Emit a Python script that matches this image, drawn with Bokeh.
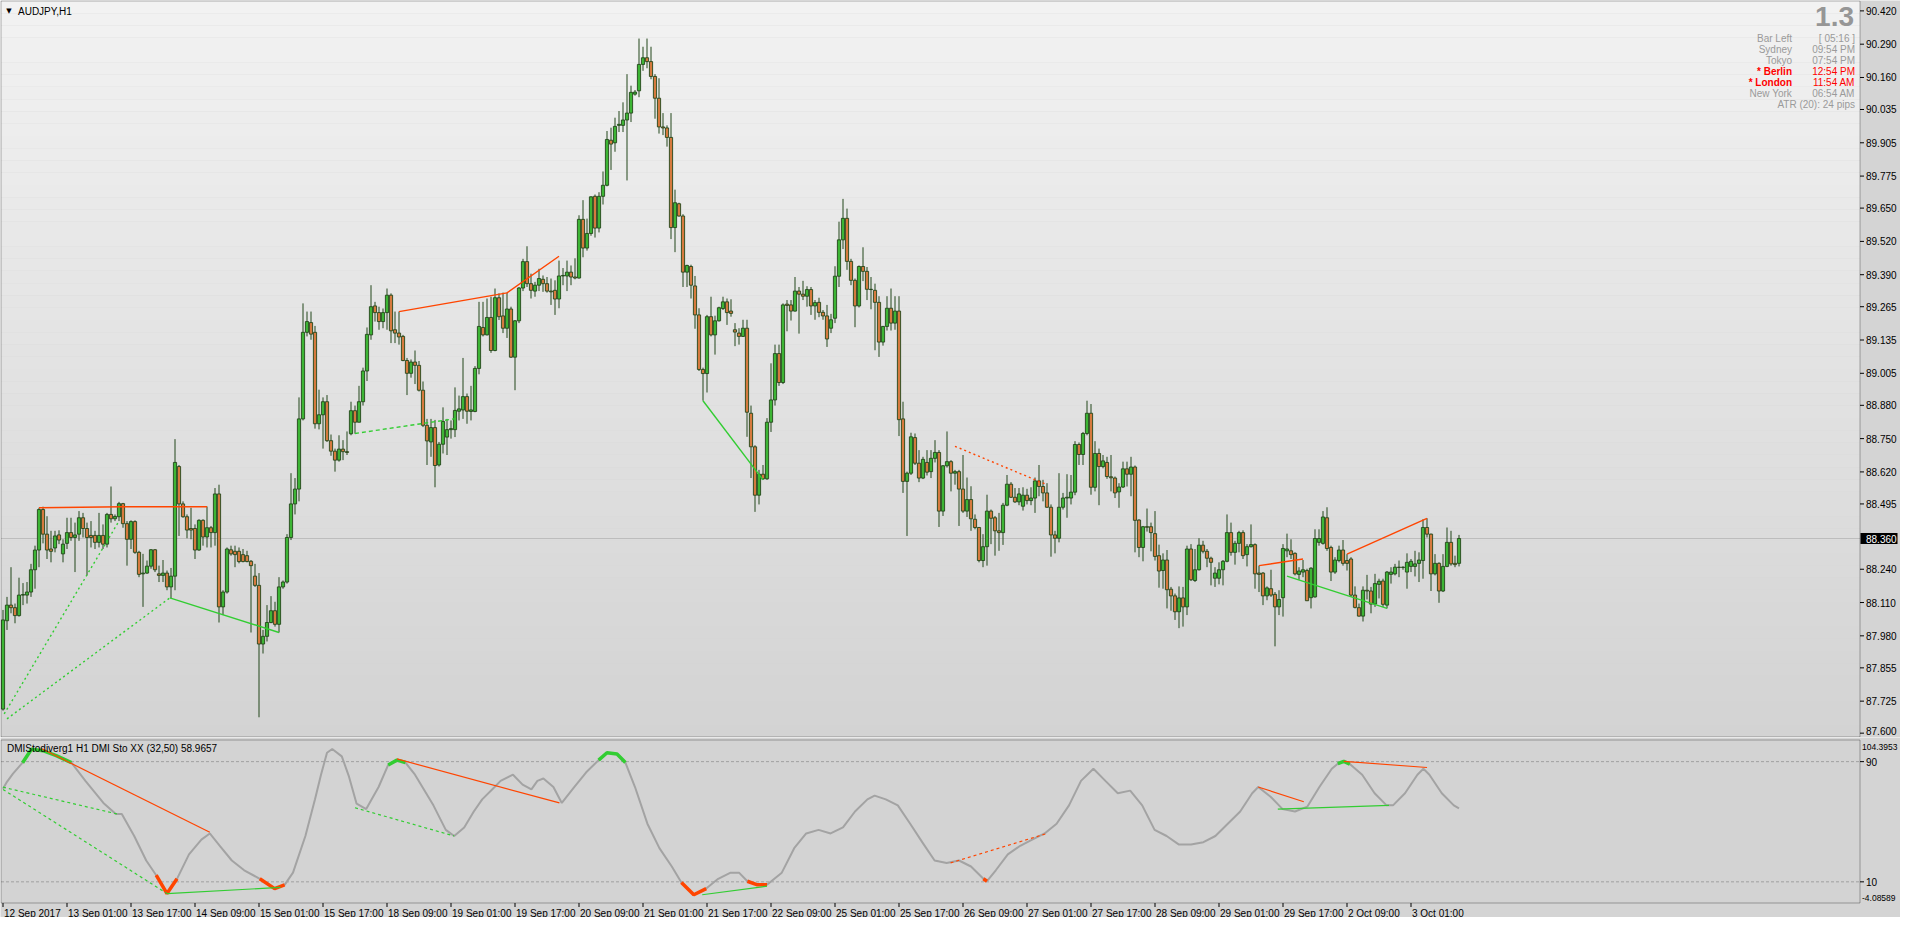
from bokeh.plotting import figure
from bokeh.layouts import column
from bokeh.models import Range1d, Label, BoxAnnotation, ColumnDataSource
from bokeh.core.properties import value
from bokeh.embed import file_html
from bokeh.resources import INLINE

# ---------------- data ----------------
opens = [
 87.694, 88.039, 88.100, 88.090, 88.059, 88.139, 88.139, 88.151, 88.238, 88.315,
 88.473, 88.377, 88.319, 88.323, 88.374, 88.300, 88.341, 88.383, 88.364, 88.377,
 88.441, 88.399, 88.372, 88.372, 88.345, 88.372, 88.338, 88.454, 88.437, 88.445,
 88.496, 88.418, 88.357, 88.426, 88.306, 88.222, 88.225, 88.252, 88.316, 88.222,
 88.216, 88.225, 88.171, 88.213, 88.641, 88.495, 88.445, 88.399, 88.399, 88.315,
 88.431, 88.366, 88.402, 88.383, 88.534, 88.093, 88.151, 88.316, 88.310, 88.310,
 88.297, 88.293, 88.271, 88.213, 88.177, 87.948, 87.978, 88.032, 88.078, 88.025,
 88.171, 88.190, 88.364, 88.495, 88.553, 88.827, 89.165, 89.203, 89.165, 88.808,
 88.843, 88.894, 88.742, 88.701, 88.666, 88.709, 88.699, 88.769, 88.859, 88.814,
 88.894, 89.014, 89.155, 89.268, 89.242, 89.207, 89.242, 89.310, 89.175, 89.162,
 89.149, 89.055, 89.005, 89.049, 89.036, 88.939, 88.802, 88.737, 88.793, 88.647,
 88.728, 88.756, 88.785, 88.785, 88.857, 88.862, 88.914, 88.856, 88.856, 89.024,
 89.184, 89.155, 89.223, 89.094, 89.300, 89.229, 89.181, 89.256, 89.068, 89.210,
 89.338, 89.441, 89.355, 89.326, 89.349, 89.372, 89.355, 89.326, 89.329, 89.295,
 89.385, 89.385, 89.400, 89.381, 89.377, 89.606, 89.494, 89.551, 89.696, 89.572,
 89.696, 89.739, 89.915, 89.905, 89.973, 89.973, 89.994, 90.021, 90.095, 90.108,
 90.211, 90.237, 90.222, 90.164, 90.079, 89.967, 89.963, 89.926, 89.574, 89.667,
 89.619, 89.400, 89.422, 89.346, 89.233, 89.020, 89.004, 89.226, 89.155, 89.210,
 89.258, 89.284, 89.248, 89.175, 89.162, 89.149, 89.181, 88.849, 88.718, 88.529,
 88.611, 88.593, 88.814, 88.901, 89.082, 88.969, 89.275, 89.272, 89.248, 89.326,
 89.314, 89.306, 89.332, 89.268, 89.282, 89.243, 89.229, 89.181, 89.220, 89.384,
 89.526, 89.610, 89.442, 89.368, 89.268, 89.422, 89.403, 89.333, 89.329, 89.282,
 89.127, 89.188, 89.259, 89.201, 89.248, 88.827, 88.583, 88.615, 88.754, 88.654,
 88.596, 88.657, 88.621, 88.673, 88.696, 88.467, 88.644, 88.660, 88.615, 88.621,
 88.553, 88.467, 88.512, 88.435, 88.403, 88.274, 88.328, 88.467, 88.441, 88.390,
 88.383, 88.490, 88.572, 88.521, 88.503, 88.486, 88.529, 88.508, 88.518, 88.585,
 88.563, 88.538, 88.482, 88.374, 88.361, 88.482, 88.518, 88.518, 88.541, 88.727,
 88.688, 88.770, 88.849, 88.560, 88.692, 88.641, 88.657, 88.601, 88.596, 88.542,
 88.561, 88.632, 88.611, 88.639, 88.432, 88.325, 88.406, 88.406, 88.379, 88.293,
 88.235, 88.276, 88.162, 88.136, 88.074, 88.128, 88.093, 88.319, 88.196, 88.238,
 88.334, 88.310, 88.283, 88.205, 88.205, 88.238, 88.271, 88.383, 88.306, 88.341,
 88.383, 88.297, 88.328, 88.336, 88.225, 88.225, 88.136, 88.164, 88.142, 88.093,
 88.129, 88.312, 88.312, 88.302, 88.220, 88.229, 88.235, 88.129, 88.132, 88.345,
 88.341, 88.441, 88.325, 88.229, 88.274, 88.315, 88.274, 88.280, 88.139, 88.090,
 88.057, 88.158, 88.155, 88.104, 88.181, 88.194, 88.100, 88.220, 88.222, 88.248,
 88.247, 88.229, 88.251, 88.251, 88.263, 88.274, 88.403, 88.377, 88.222, 88.263,
 88.155, 88.251, 88.345, 88.263, 88.263]
highs = [
 88.081, 88.132, 88.248, 88.106, 88.207, 88.186, 88.190, 88.261, 88.332, 88.480,
 88.484, 88.447, 88.390, 88.390, 88.392, 88.357, 88.441, 88.441, 88.422, 88.467,
 88.460, 88.422, 88.428, 88.390, 88.460, 88.415, 88.460, 88.563, 88.454, 88.503,
 88.499, 88.428, 88.431, 88.431, 88.312, 88.300, 88.274, 88.319, 88.319, 88.254,
 88.276, 88.235, 88.245, 88.748, 88.647, 88.505, 88.454, 88.480, 88.415, 88.435,
 88.435, 88.485, 88.409, 88.557, 88.570, 88.158, 88.325, 88.332, 88.332, 88.325,
 88.319, 88.312, 88.276, 88.261, 88.225, 88.003, 88.100, 88.135, 88.113, 88.209,
 88.196, 88.377, 88.615, 88.596, 88.911, 89.278, 89.246, 89.246, 89.190, 88.941,
 88.911, 88.920, 88.766, 88.711, 88.763, 88.744, 88.778, 88.894, 88.879, 88.956,
 89.027, 89.184, 89.349, 89.284, 89.265, 89.258, 89.336, 89.317, 89.246, 89.246,
 89.155, 89.065, 89.059, 89.094, 89.053, 88.973, 88.827, 88.827, 88.823, 88.737,
 88.872, 88.827, 88.821, 88.950, 88.918, 89.065, 88.926, 88.956, 89.033, 89.284,
 89.284, 89.297, 89.304, 89.336, 89.317, 89.320, 89.320, 89.265, 89.213, 89.342,
 89.452, 89.501, 89.394, 89.362, 89.413, 89.387, 89.381, 89.375, 89.368, 89.445,
 89.416, 89.445, 89.426, 89.454, 89.622, 89.681, 89.609, 89.696, 89.703, 89.712,
 89.793, 89.951, 89.964, 90.003, 90.029, 90.063, 90.173, 90.128, 90.111, 90.312,
 90.280, 90.312, 90.280, 90.173, 90.157, 90.021, 89.973, 90.021, 89.722, 89.671,
 89.626, 89.429, 89.429, 89.385, 89.259, 89.027, 89.233, 89.304, 89.230, 89.265,
 89.304, 89.297, 89.294, 89.201, 89.181, 89.214, 89.214, 88.879, 88.724, 88.628,
 88.647, 88.830, 89.044, 89.117, 89.117, 89.278, 89.291, 89.291, 89.381, 89.342,
 89.366, 89.345, 89.342, 89.291, 89.300, 89.252, 89.272, 89.237, 89.423, 89.597,
 89.686, 89.648, 89.452, 89.375, 89.426, 89.497, 89.420, 89.381, 89.355, 89.306,
 89.190, 89.306, 89.336, 89.306, 89.306, 88.894, 88.621, 88.773, 88.770, 88.705,
 88.679, 88.705, 88.705, 88.744, 88.705, 88.647, 88.778, 88.666, 88.628, 88.628,
 88.686, 88.598, 88.564, 88.454, 88.405, 88.377, 88.531, 88.473, 88.448, 88.460,
 88.499, 88.608, 88.580, 88.557, 88.557, 88.560, 88.554, 88.560, 88.598, 88.647,
 88.589, 88.576, 88.493, 88.390, 88.615, 88.538, 88.611, 88.608, 88.740, 88.735,
 88.776, 88.898, 88.885, 88.740, 88.711, 88.686, 88.679, 88.686, 88.602, 88.576,
 88.660, 88.660, 88.679, 88.645, 88.435, 88.409, 88.477, 88.422, 88.467, 88.336,
 88.302, 88.315, 88.171, 88.145, 88.173, 88.171, 88.332, 88.338, 88.319, 88.361,
 88.351, 88.319, 88.289, 88.248, 88.267, 88.276, 88.454, 88.422, 88.351, 88.390,
 88.392, 88.338, 88.415, 88.341, 88.254, 88.229, 88.173, 88.238, 88.151, 88.158,
 88.338, 88.379, 88.357, 88.306, 88.248, 88.276, 88.242, 88.248, 88.396, 88.396,
 88.467, 88.482, 88.332, 88.287, 88.332, 88.354, 88.299, 88.287, 88.173, 88.106,
 88.173, 88.218, 88.171, 88.222, 88.203, 88.203, 88.233, 88.248, 88.261, 88.274,
 88.251, 88.302, 88.280, 88.312, 88.306, 88.435, 88.439, 88.379, 88.299, 88.267,
 88.299, 88.403, 88.390, 88.293, 88.374]
lows = [
 87.688, 88.003, 88.068, 88.029, 88.055, 88.100, 88.106, 88.132, 88.164, 88.248,
 88.341, 88.280, 88.267, 88.306, 88.338, 88.267, 88.319, 88.351, 88.229, 88.351,
 88.364, 88.216, 88.325, 88.319, 88.325, 88.319, 88.325, 88.422, 88.428, 88.428,
 88.402, 88.254, 88.319, 88.300, 88.209, 88.093, 88.222, 88.242, 88.229, 88.190,
 88.190, 88.158, 88.126, 88.158, 88.370, 88.441, 88.361, 88.357, 88.280, 88.312,
 88.332, 88.325, 88.325, 88.332, 88.032, 88.061, 88.145, 88.293, 88.248, 88.263,
 88.267, 88.267, 87.993, 88.171, 87.662, 87.911, 87.958, 88.029, 88.016, 87.993,
 88.164, 88.184, 88.354, 88.454, 88.505, 88.821, 89.149, 89.136, 88.789, 88.786,
 88.711, 88.737, 88.683, 88.621, 88.660, 88.666, 88.686, 88.763, 88.769, 88.814,
 88.879, 88.975, 89.136, 89.207, 89.175, 89.181, 89.175, 89.123, 89.123, 89.117,
 89.052, 88.920, 88.988, 88.963, 88.934, 88.795, 88.647, 88.679, 88.560, 88.641,
 88.692, 88.686, 88.750, 88.756, 88.821, 88.827, 88.808, 88.821, 88.853, 89.001,
 89.149, 89.153, 89.085, 89.091, 89.213, 89.162, 89.143, 89.065, 88.939, 89.201,
 89.326, 89.342, 89.297, 89.304, 89.326, 89.323, 89.320, 89.272, 89.233, 89.259,
 89.349, 89.326, 89.349, 89.372, 89.375, 89.458, 89.484, 89.542, 89.535, 89.555,
 89.664, 89.735, 89.799, 89.870, 89.947, 89.947, 89.758, 89.986, 90.089, 90.083,
 90.186, 90.196, 90.153, 89.999, 89.941, 89.935, 89.890, 89.529, 89.478, 89.617,
 89.342, 89.342, 89.297, 89.179, 89.014, 88.898, 88.930, 89.149, 89.078, 89.207,
 89.252, 89.194, 89.226, 89.111, 89.117, 89.147, 88.757, 88.596, 88.464, 88.493,
 88.589, 88.589, 88.776, 88.879, 88.956, 88.963, 89.169, 89.211, 89.246, 89.160,
 89.291, 89.265, 89.233, 89.214, 89.224, 89.214, 89.108, 89.162, 89.201, 89.342,
 89.490, 89.409, 89.349, 89.185, 89.262, 89.365, 89.291, 89.255, 89.095, 89.069,
 89.113, 89.172, 89.172, 89.175, 88.760, 88.538, 88.370, 88.608, 88.647, 88.580,
 88.592, 88.606, 88.596, 88.657, 88.405, 88.448, 88.637, 88.544, 88.570, 88.409,
 88.460, 88.444, 88.390, 88.396, 88.267, 88.248, 88.254, 88.338, 88.293, 88.312,
 88.335, 88.486, 88.518, 88.499, 88.490, 88.469, 88.493, 88.490, 88.460, 88.525,
 88.505, 88.480, 88.289, 88.302, 88.345, 88.473, 88.441, 88.493, 88.529, 88.647,
 88.647, 88.763, 88.531, 88.544, 88.490, 88.634, 88.593, 88.544, 88.518, 88.480,
 88.557, 88.563, 88.525, 88.306, 88.287, 88.271, 88.387, 88.310, 88.274, 88.168,
 88.164, 88.087, 88.078, 88.042, 88.010, 88.016, 88.061, 88.194, 88.190, 88.235,
 88.302, 88.248, 88.177, 88.171, 88.181, 88.177, 88.267, 88.293, 88.258, 88.306,
 88.280, 88.251, 88.325, 88.164, 88.151, 88.100, 88.119, 88.132, 87.939, 88.061,
 88.055, 88.287, 88.280, 88.216, 88.199, 88.209, 88.117, 88.087, 88.129, 88.332,
 88.336, 88.312, 88.194, 88.222, 88.267, 88.254, 88.235, 88.132, 88.087, 88.055,
 88.036, 88.122, 88.068, 88.093, 88.126, 88.093, 88.087, 88.184, 88.216, 88.209,
 88.238, 88.164, 88.229, 88.212, 88.190, 88.203, 88.364, 88.155, 88.216, 88.109,
 88.151, 88.248, 88.254, 88.248, 88.251]
closes = [
 88.042, 88.100, 88.090, 88.059, 88.139, 88.141, 88.151, 88.238, 88.315, 88.473,
 88.377, 88.315, 88.310, 88.370, 88.354, 88.338, 88.383, 88.364, 88.374, 88.441,
 88.399, 88.364, 88.364, 88.345, 88.372, 88.338, 88.454, 88.437, 88.446, 88.496,
 88.418, 88.357, 88.426, 88.306, 88.220, 88.225, 88.252, 88.316, 88.238, 88.216,
 88.225, 88.171, 88.213, 88.657, 88.495, 88.445, 88.393, 88.393, 88.315, 88.431,
 88.366, 88.402, 88.383, 88.534, 88.093, 88.151, 88.319, 88.300, 88.297, 88.270,
 88.270, 88.270, 88.254, 88.177, 87.948, 87.978, 88.032, 88.078, 88.025, 88.171,
 88.190, 88.364, 88.495, 88.553, 88.827, 89.165, 89.207, 89.158, 88.808, 88.843,
 88.894, 88.742, 88.701, 88.666, 88.709, 88.699, 88.696, 88.859, 88.814, 88.894,
 89.014, 89.157, 89.265, 89.242, 89.207, 89.242, 89.310, 89.171, 89.162, 89.147,
 89.055, 89.005, 89.049, 89.036, 88.939, 88.802, 88.741, 88.793, 88.645, 88.728,
 88.817, 88.785, 88.789, 88.860, 88.866, 88.914, 88.857, 88.862, 89.024, 89.188,
 89.155, 89.223, 89.094, 89.300, 89.226, 89.181, 89.256, 89.068, 89.210, 89.338,
 89.441, 89.355, 89.329, 89.349, 89.375, 89.355, 89.326, 89.323, 89.295, 89.385,
 89.387, 89.400, 89.381, 89.377, 89.606, 89.494, 89.551, 89.694, 89.572, 89.696,
 89.739, 89.918, 89.900, 89.969, 89.977, 89.994, 90.021, 90.102, 90.103, 90.211,
 90.237, 90.222, 90.164, 90.079, 89.967, 89.963, 89.926, 89.574, 89.671, 89.619,
 89.400, 89.426, 89.349, 89.233, 89.020, 89.004, 89.226, 89.155, 89.210, 89.261,
 89.284, 89.242, 89.239, 89.166, 89.149, 89.181, 88.853, 88.718, 88.529, 88.611,
 88.593, 88.814, 88.901, 89.082, 88.969, 89.272, 89.270, 89.248, 89.326, 89.314,
 89.306, 89.332, 89.268, 89.281, 89.243, 89.229, 89.139, 89.214, 89.384, 89.526,
 89.610, 89.442, 89.368, 89.268, 89.422, 89.403, 89.333, 89.332, 89.282, 89.127,
 89.188, 89.259, 89.201, 89.248, 88.824, 88.583, 88.615, 88.757, 88.654, 88.596,
 88.669, 88.619, 88.673, 88.696, 88.467, 88.644, 88.660, 88.615, 88.621, 88.553,
 88.467, 88.512, 88.437, 88.403, 88.274, 88.328, 88.467, 88.439, 88.390, 88.383,
 88.490, 88.572, 88.521, 88.503, 88.534, 88.529, 88.508, 88.518, 88.585, 88.563,
 88.538, 88.482, 88.374, 88.361, 88.482, 88.518, 88.521, 88.541, 88.727, 88.688,
 88.770, 88.849, 88.560, 88.692, 88.641, 88.663, 88.602, 88.597, 88.538, 88.561,
 88.632, 88.611, 88.639, 88.431, 88.325, 88.406, 88.404, 88.383, 88.290, 88.233,
 88.276, 88.160, 88.136, 88.074, 88.128, 88.093, 88.319, 88.199, 88.238, 88.334,
 88.310, 88.283, 88.267, 88.225, 88.238, 88.271, 88.383, 88.306, 88.341, 88.383,
 88.293, 88.328, 88.336, 88.222, 88.220, 88.136, 88.167, 88.139, 88.093, 88.122,
 88.321, 88.319, 88.297, 88.222, 88.233, 88.238, 88.117, 88.244, 88.360, 88.360,
 88.444, 88.321, 88.229, 88.276, 88.315, 88.263, 88.263, 88.139, 88.091, 88.057,
 88.158, 88.155, 88.104, 88.184, 88.193, 88.103, 88.229, 88.229, 88.248, 88.247,
 88.248, 88.267, 88.271, 88.261, 88.276, 88.403, 88.377, 88.222, 88.263, 88.155,
 88.251, 88.345, 88.261, 88.258, 88.360]

# oscillator (DMI Sto XX) read at these bar positions
osc_bar = [0, 0.85, 2.5, 4.9, 7.1, 10, 13.3, 17.1, 20.6, 25.1, 28.2, 29.7, 32.8, 35.8,
           38.3, 41.0, 43.5, 46.5, 49.6, 51.7, 54.2, 57.2, 60.3, 64.2, 67.9, 70.4, 72.5,
           75.6, 78.0, 79.5, 81.0, 82.3, 84.7, 86.5, 88.4, 90.8, 93.9, 96.3, 98.5, 100.6,
           103.0, 107.6, 110.7, 112.8, 115.3, 117.7, 119.8, 122.9, 124.4, 127.5, 129.9,
           132.1, 133.6, 135.1, 137.6, 139.7, 142.8, 145.8, 148.9, 151.0, 153.5, 155.6,
           158.0, 161.1, 164.1, 167.2, 169.6, 172.7, 175.8, 178.8, 181.9, 184.0, 186.1,
           188.6, 191.0, 194.7, 197.8, 200.8, 203.9, 206.9, 210.0, 213.0, 216.1, 217.9,
           220.7, 223.7, 226.8, 229.8, 232.9, 235.9, 239.0, 242.0, 245.1, 246.0, 248.2,
           251.2, 254.3, 257.3, 260.4, 263.4, 266.5, 269.5, 272.6, 275.6, 278.7, 281.8,
           284.8, 287.9, 290.9, 294.0, 297.0, 300.1, 303.1, 306.2, 309.3, 312.3, 313.8,
           316.9, 319.9, 323.0, 326.1, 329.1, 332.2, 333.7, 335.2, 336.7, 337.7, 339.8,
           342.9, 345.9, 347.5, 350.5, 353.6, 355.1, 356.6, 359.7, 362.7, 364.0]
osc_val = [72.0, 76.0, 82.0, 89.3, 98.2, 97.3, 94.0, 89.3, 77.2, 62.5, 55.2, 55.2, 40.5, 24.2,
           14.4, 2.2, 12.0, 28.3, 38.1, 42.2, 34.0, 24.2, 17.7, 12.0, 5.5, 8.0, 16.1,
           40.5, 64.9, 81.3, 95.9, 98.4, 93.5, 80.0, 62.0, 58.4, 73.1, 87.8, 91.0, 89.4,
           81.3, 60.9, 44.6, 40.5, 46.2, 56.8, 64.9, 73.1, 77.2, 81.3, 74.7,
           71.5, 77.2, 78.8, 73.1, 62.5, 73.1, 82.9, 91.0, 95.9, 95.1, 89.4,
           73.1, 48.7, 32.4, 20.2, 9.6, 1.4, 5.5, 12.0, 16.1, 16.1, 10.4,
           8.0, 8.0, 16.1, 32.4, 42.2, 44.6, 42.2, 46.2, 56.8, 64.9, 67.4,
           64.9, 60.9, 48.7, 36.4, 24.2, 22.6, 24.2, 20.2, 12.0, 10.4, 17.7,
           28.3, 34.0, 38.1, 42.2, 48.7, 60.9, 77.2, 85.3, 77.2, 69.0, 70.7,
           60.9, 44.6, 40.5, 34.8, 34.8, 36.4, 40.5, 48.7, 56.8, 69.0, 73.1,
           66.6, 58.4, 56.8, 60.1, 73.1, 85.3, 88.6, 90.2, 88.4, 86.1, 81.3,
           69.0, 60.9, 60.9, 69.0, 81.3, 85.3, 81.3, 69.0, 60.9, 58.97]
hi_zones = [(4.9, 17.1), (96.3, 100.6), (148.9, 155.6), (333.7, 336.7)]
lo_zones = [(38.3, 43.5), (64.2, 70.4), (169.6, 175.8), (186.1, 191.0), (245.1, 246.0)]

# divergence lines: (colour, dash, bars, values)
main_lines = [
    ("red", "solid", [9, 30, 30, 51], [88.480, 88.484, 88.484, 88.484]),
    ("green", "2 3", [0.3, 29], [87.675, 88.428]),
    ("green", "2 3", [1.0, 41.7], [87.656, 88.128]),
    ("green", "solid", [41.7, 69], [88.128, 87.993]),
    ("green", "4 3", [88, 114], [88.770, 88.830]),
    ("red", "solid", [99, 126, 139], [89.246, 89.319, 89.462]),
    ("green", "solid", [175, 190], [88.898, 88.589]),
    ("red", "2 3", [238, 261], [88.720, 88.570]),
    ("red", "solid", [314, 325], [88.254, 88.280]),
    ("red", "solid", [336, 356], [88.299, 88.439]),
    ("green", "solid", [321, 346], [88.213, 88.087]),
]
ind_lines = [
    ("red", "solid", [9.6, 51.7], [98.7, 43.0]),
    ("green", "3 3", [0, 28.5], [73.0, 55.2]),
    ("green", "3 3", [0, 41.0], [71.5, 2.2]),
    ("green", "solid", [41.0, 69.4], [2.2, 6.3]),
    ("red", "solid", [98.5, 139.1], [91.8, 62.5]),
    ("green", "3 3", [88.0, 112.8], [59.3, 40.5]),
    ("green", "solid", [174.8, 191.0], [1.4, 7.1]),
    ("red", "3 3", [236.9, 261.0], [22.6, 42.2]),
    ("red", "solid", [313.8, 325.2], [73.1, 63.3]),
    ("green", "solid", [318.7, 346.5], [58.4, 60.9]),
    ("red", "solid", [335.2, 356.0], [90.2, 86.1]),
]

price_ticks = [90.420, 90.290, 90.160, 90.035, 89.905, 89.775, 89.650, 89.520, 89.390,
               89.265, 89.135, 89.005, 88.880, 88.750, 88.620, 88.495, 88.240, 88.110,
               87.980, 87.855, 87.725, 87.600]
time_labels = ["12 Sep 2017", "13 Sep 01:00", "13 Sep 17:00", "14 Sep 09:00", "15 Sep 01:00",
               "15 Sep 17:00", "18 Sep 09:00", "19 Sep 01:00", "19 Sep 17:00", "20 Sep 09:00",
               "21 Sep 01:00", "21 Sep 17:00", "22 Sep 09:00", "25 Sep 01:00", "25 Sep 17:00",
               "26 Sep 09:00", "27 Sep 01:00", "27 Sep 17:00", "28 Sep 09:00", "29 Sep 01:00",
               "29 Sep 17:00", "2 Oct 09:00", "3 Oct 01:00"]
time_ticks = [16 * k for k in range(len(time_labels))]
last_price = 88.360
ind_levels = [10, 90]
ind_max, ind_min = 104.3953, -4.08589
info_rows = [("Bar Left", "[ 05:16 ]", False), ("Sydney", "09:54 PM", False),
             ("Tokyo", "07:54 PM", False), ("* Berlin", "12:54 PM", True),
             ("* London", "11:54 AM", True), ("New York", "06:54 AM", False)]

# ---------------- styling / geometry ----------------
FONT = "Liberation Sans"
BULL = "#3DB535"
BEAR = "#D67A3E"
EDGE = "#23461A"
RED = "#FF4500"
GREEN = "#32CD32"
GREY_TXT = "#9A9A9A"
PAGE = "#D4D4D4"

W = 1900
PPX = 4.0                      # pixels per bar
X0 = -0.625                    # data x at left canvas edge
XE = X0 + W / PPX


def dx(px):
    return X0 + px / PPX


XL, XR = dx(0.5), dx(1859.5)   # chart panel borders

MH = 737
P_TOP, P_BOT = 90.4586, 87.585  # prices at panel borders
PPY = (736.5 - 0.5) / (P_TOP - P_BOT)
YT = P_TOP + 0.5 / PPY


def dy(py):
    return YT - py / PPY


IH = 180
IPPY = (165.5 - 2.5) / (ind_max - ind_min)
IYT = ind_max + 2.5 / IPPY


def idy(py):
    return IYT - py / IPPY


xr = Range1d(X0, XE)


def text_kw(size="10px", color="black", align="left"):
    return dict(text_font=value(FONT), text_font_size=value(size), text_color=color,
                text_align=align, text_baseline="middle")


# ---------------- main panel ----------------
p = figure(width=W, height=MH, x_range=xr, y_range=Range1d(dy(MH), YT),
           x_axis_location=None, y_axis_location=None, toolbar_location=None,
           output_backend="svg", min_border=0)
p.grid.visible = False
p.outline_line_color = None
p.background_fill_color = PAGE
p.border_fill_color = PAGE

NB = 60
for k in range(NB):
    t = (k + 0.5) / NB
    g = int(round(242 - t * (242 - 211)))
    p.add_layout(BoxAnnotation(left=XL, right=XR,
                               top=P_TOP - (P_TOP - P_BOT) * k / NB,
                               bottom=P_TOP - (P_TOP - P_BOT) * (k + 1) / NB,
                               fill_color="#%02x%02x%02x" % (g, g, g), fill_alpha=1,
                               line_color=None, level="underlay"))

p.segment(x0=[XL], y0=[last_price], x1=[XR], y1=[last_price], line_color="#BDBDBD",
          line_width=1)

n = len(closes)
src = ColumnDataSource(dict(
    x=list(range(n)), h=highs, l=lows,
    top=[max(o, c) for o, c in zip(opens, closes)],
    bottom=[min(o, c) for o, c in zip(opens, closes)],
    fill=[BULL if c >= o else BEAR for o, c in zip(opens, closes)]))
p.segment(x0="x", y0="l", x1="x", y1="h", source=src, line_color=EDGE, line_width=1)
p.vbar(x="x", width=0.8, top="top", bottom="bottom", fill_color="fill",
       line_color=EDGE, line_width=0.9, source=src)

for col, dash, xs, ys in main_lines:
    p.line(xs, ys, line_color=RED if col == "red" else GREEN, line_width=1.4,
           line_dash=dash)

p.add_layout(BoxAnnotation(left=XL, right=XR, top=P_TOP, bottom=P_BOT, fill_alpha=0,
                           line_color="black", line_width=1, level="overlay"))

# price axis (labels kept inside the canvas)
k = len(price_ticks)
p.segment(x0=[XR] * k, y0=price_ticks, x1=[dx(1863.5)] * k, y1=price_ticks,
          line_color="black", line_width=1)
label_y = [max(t, dy(MH - 7)) for t in price_ticks]
label_y = [min(v, dy(7)) for v in label_y]
p.text(x=[dx(1865.5)] * k, y=label_y, text=["%.3f" % t for t in price_ticks],
       **text_kw())
p.add_layout(BoxAnnotation(left=dx(1860), right=dx(1897), top=last_price + 5.5 / PPY,
                           bottom=last_price - 5.5 / PPY, fill_color="black", fill_alpha=1,
                           line_color=None, level="overlay"))
p.add_layout(Label(x=dx(1865.5), y=last_price, text="%.3f" % last_price, text_font=FONT,
                   text_font_size="10px", text_color="white", text_baseline="middle",
                   level="overlay"))

# title and info block
p.add_layout(Label(x=dx(8.5), y=dy(10.5), text="\u25bc", text_font="DejaVu Sans",
                   text_font_size="7px", text_color="black", text_align="center",
                   text_baseline="middle"))
p.add_layout(Label(x=dx(17.5), y=dy(10.5), text="AUDJPY,H1", text_font=FONT,
                   text_font_size="10px", text_color="black", text_baseline="middle"))
p.add_layout(Label(x=dx(1853.5), y=dy(16), text="1.3", text_font=FONT, text_font_size="28px",
                   text_font_style="bold", text_color="#969696", text_align="right",
                   text_baseline="middle"))
for i, (a, b, hot) in enumerate(info_rows):
    yy = dy(38 + 11 * i)
    colr = "#FF0000" if hot else GREY_TXT
    p.add_layout(Label(x=dx(1791.5), y=yy, text=a, text_font=FONT, text_font_size="10px",
                       text_color=colr, text_font_style="bold" if hot else "normal",
                       text_align="right", text_baseline="middle"))
    p.add_layout(Label(x=dx(1854.5), y=yy, text=b, text_font=FONT, text_font_size="10px",
                       text_color=colr, text_align="right", text_baseline="middle"))
p.add_layout(Label(x=dx(1854.5), y=dy(104), text="ATR (20): 24 pips", text_font=FONT,
                   text_font_size="10px", text_color=GREY_TXT, text_align="right",
                   text_baseline="middle"))

# ---------------- indicator panel ----------------
q = figure(width=W, height=IH, x_range=xr, y_range=Range1d(idy(IH), IYT),
           x_axis_location=None, y_axis_location=None, toolbar_location=None,
           output_backend="svg", min_border=0)
q.grid.visible = False
q.outline_line_color = None
q.background_fill_color = PAGE
q.border_fill_color = PAGE

q.add_layout(BoxAnnotation(left=XL, right=XR, top=ind_max, bottom=ind_min,
                           fill_color="#D3D3D3", fill_alpha=1, line_color=None,
                           level="underlay"))
for lv in ind_levels:
    q.segment(x0=[XL], y0=[lv], x1=[XR], y1=[lv], line_color="#A0A0A0", line_width=1,
              line_dash="3 2")

q.line(osc_bar, osc_val, line_color="#A3A3A3", line_width=2)
for a, b in hi_zones:
    xs = [x for x in osc_bar if a <= x <= b]
    ys = [v for x, v in zip(osc_bar, osc_val) if a <= x <= b]
    q.line(xs, ys, line_color=GREEN, line_width=3.5)
for a, b in lo_zones:
    xs = [x for x in osc_bar if a <= x <= b]
    ys = [v for x, v in zip(osc_bar, osc_val) if a <= x <= b]
    q.line(xs, ys, line_color=RED, line_width=3.5)
for col, dash, xs, ys in ind_lines:
    q.line(xs, ys, line_color=RED if col == "red" else GREEN, line_width=1.2,
           line_dash=dash)

q.add_layout(BoxAnnotation(left=XL, right=XR, top=ind_max, bottom=ind_min, fill_alpha=0,
                           line_color="black", line_width=1, level="overlay"))

q.add_layout(Label(x=dx(6.5), y=idy(10.5), text="DMIStodiverg1 H1 DMI Sto XX (32,50) 58.9657",
                   text_font=FONT, text_font_size="10px", text_color="black",
                   text_baseline="middle"))
q.segment(x0=[XR] * 2, y0=ind_levels, x1=[dx(1863.5)] * 2, y1=ind_levels, line_color="black")
q.text(x=[dx(1865.5)] * 2, y=ind_levels, text=[str(v) for v in ind_levels], **text_kw())
q.text(x=[dx(1861.5)], y=[idy(9)], text=["%.4f" % ind_max], **text_kw(size="8.5px"))
q.text(x=[dx(1861.5)], y=[idy(160)], text=["%.5f" % ind_min], **text_kw(size="8.5px"))

# time axis
q.segment(x0=time_ticks, y0=[ind_min] * len(time_ticks), x1=time_ticks,
          y1=[idy(169.5)] * len(time_ticks), line_color="black", line_width=1)
q.text(x=[t + 1.0 / PPX for t in time_ticks], y=[idy(175.5)] * len(time_ticks),
       text=time_labels, **text_kw())

layout = column(p, q, spacing=0)
open("out.html", "w").write(file_html(layout, INLINE))
